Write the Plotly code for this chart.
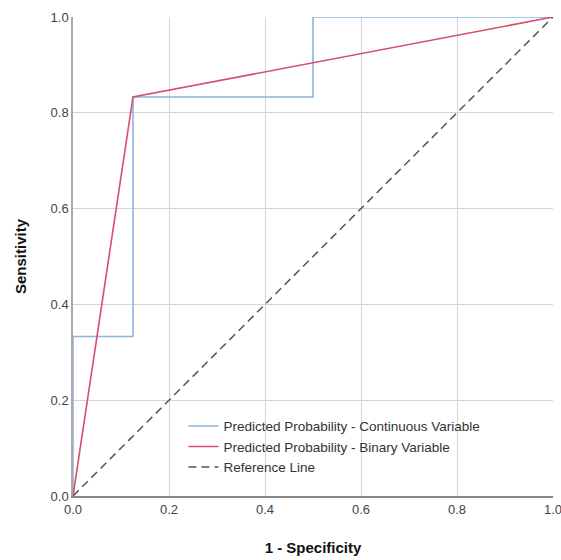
import plotly.graph_objects as go

cont_x = [0, 0, 0.125, 0.125, 0.5, 0.5, 1.0]
cont_y = [0, 0.333, 0.333, 0.833, 0.833, 1.0, 1.0]
bin_x = [0, 0.125, 1.0]
bin_y = [0, 0.833, 1.0]
ref_x = [0, 1]
ref_y = [0, 1]
tick_vals = [0, 0.2, 0.4, 0.6, 0.8, 1.0]
tick_text = ["0.0", "0.2", "0.4", "0.6", "0.8", "1.0"]

fig = go.Figure()
fig.add_trace(go.Scatter(x=cont_x, y=cont_y, mode="lines",
                         line=dict(color="#8db3de", width=1.6),
                         name="Predicted Probability - Continuous Variable"))
fig.add_trace(go.Scatter(x=bin_x, y=bin_y, mode="lines",
                         line=dict(color="#d64c74", width=1.6),
                         name="Predicted Probability - Binary Variable"))
fig.add_trace(go.Scatter(x=ref_x, y=ref_y, mode="lines",
                         line=dict(color="#555555", width=1.5, dash="8px,5px"),
                         name="Reference Line"))

font = "Liberation Sans, Arial, sans-serif"
fig.update_layout(
    width=561, height=560,
    margin=dict(l=73, r=8, t=17, b=64, autoexpand=False),
    paper_bgcolor="white", plot_bgcolor="white",
    font=dict(family=font, color="#444444", size=12),
    showlegend=True,
    legend=dict(x=0.23, y=0.178, xanchor="left", yanchor="top",
                bgcolor="rgba(0,0,0,0)", font=dict(size=13.5, color="#333333"),
                tracegroupgap=0, itemwidth=30),
    xaxis=dict(range=[0, 1], tickvals=tick_vals, ticktext=tick_text,
               showgrid=True, gridcolor="#d4d4d4", gridwidth=1.3,
               showline=True, linecolor="#888888", linewidth=2,
               mirror=False, zeroline=False, ticks="", ticklen=0,
               ticklabeloverflow="allow",
               tickfont=dict(size=13, color="#444444"),
               title=dict(text="<b>1 - Specificity</b>", font=dict(size=15, color="#111111"),
                          standoff=27)),
    yaxis=dict(range=[0, 1], tickvals=tick_vals, ticktext=tick_text,
               showgrid=True, gridcolor="#d4d4d4", gridwidth=1.3,
               showline=True, linecolor="#aaaaaa", linewidth=1.5,
               zeroline=False, ticks="", ticklabeloverflow="allow",
               tickfont=dict(size=13, color="#444444"),
               title=dict(text="<b>Sensitivity</b>", font=dict(size=15, color="#111111"),
                          standoff=20)),
)
fig.write_html("out.html", config={"displayModeBar": False},
               post_script="document.body.style.margin='0';document.body.style.overflow='hidden';")
